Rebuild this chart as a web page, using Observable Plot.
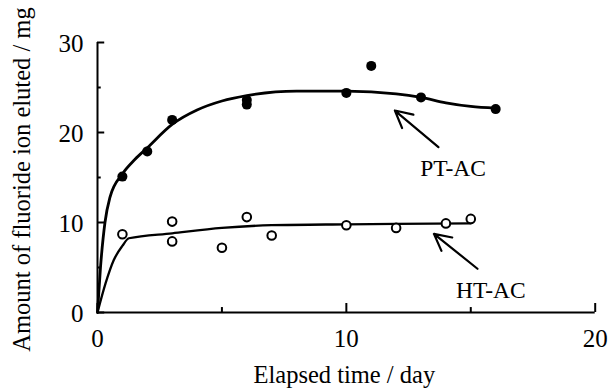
<!DOCTYPE html>
<html><head><meta charset="utf-8">
<script src="https://cdn.jsdelivr.net/npm/d3@7"></script>
<script src="https://cdn.jsdelivr.net/npm/@observablehq/plot@0.6"></script>
<style>body{margin:0;background:#fff}</style>
</head><body><div id="chart"></div>
<script>
// Observed points (elapsed day, fluoride mg)
const ptDays   = [1, 2, 3, 6, 6, 10, 11, 13, 16];
const ptValues = [15.1, 17.9, 21.4, 23.6, 23.1, 24.4, 27.4, 23.9, 22.6];
const htDays   = [1, 3, 3, 5, 6, 7, 10, 12, 14, 15];
const htValues = [8.7, 10.1, 7.9, 7.2, 10.6, 8.55, 9.7, 9.4, 9.9, 10.4];
// Fitted curves
const ptCurveDays   = [0, 0.12, 0.3, 0.5, 1, 1.5, 2, 3, 4, 5, 6, 8, 10, 12, 13, 14, 15, 16];
const ptCurveValues = [0, 5, 10, 12.8, 15.4, 17, 18.3, 20.9, 22.5, 23.5, 24.1, 24.6, 24.6, 24.3, 23.9, 23.3, 22.9, 22.7];
const htCurveDays   = [0, 0.32, 0.65, 1, 1.26, 3, 5, 7, 10, 12, 15];
const htCurveValues = [0, 3.2, 5.8, 7.4, 8.25, 8.8, 9.4, 9.7, 9.8, 9.85, 9.9];
// Axis ticks
const xMajorTicks = [0, 10, 20];
const xMinorTicks = [5, 15];
const yMajorTicks = [0, 10, 20, 30];
const yMinorTicks = [5, 15, 25];
// Annotations
const seriesNames = ["PT-AC", "HT-AC"];
const labelX = [14.29, 15.81];
const labelY = [16.0, 2.44];
const arrowTailX = [13.70, 15.27];
const arrowTailY = [18.37, 4.86];
const arrowHeadX = [11.95, 13.52];
const arrowHeadY = [22.44, 8.74];
const xTitle = "Elapsed time / day";
const yTitle = "Amount of fluoride ion eluted / mg";

const serif = "Liberation Serif";
const pts = ptDays.map((d, i) => ({x: d, y: ptValues[i]}));
const hts = htDays.map((d, i) => ({x: d, y: htValues[i]}));
const ptCurve = ptCurveDays.map((d, i) => ({x: d, y: ptCurveValues[i]}));
const htCurve = htCurveDays.map((d, i) => ({x: d, y: htCurveValues[i]}));
const ann = seriesNames.map((n, i) => ({name: n, lx: labelX[i], ly: labelY[i],
  x1: arrowTailX[i], y1: arrowTailY[i], x2: arrowHeadX[i], y2: arrowHeadY[i]}));

const chart = Plot.plot({
  width: 608, height: 390,
  marginLeft: 97, marginRight: 13.3, marginTop: 42, marginBottom: 78,
  style: {fontFamily: serif, fontSize: "24px", background: "#fff", color: "#000"},
  x: {domain: [0, 20], axis: null},
  y: {domain: [0, 30], axis: null},
  marks: [
    Plot.ruleX([0], {y1: 0, y2: 30, strokeWidth: 2}),
    Plot.ruleY([0], {x1: 0, x2: 20, strokeWidth: 2}),
    Plot.ruleX(xMajorTicks, {y1: 0, y2: 1.0, strokeWidth: 2}),
    Plot.ruleX(xMinorTicks, {y1: 0, y2: 0.55, strokeWidth: 2}),
    Plot.ruleY(yMajorTicks, {x1: 0, x2: 0.29, strokeWidth: 2}),
    Plot.ruleY(yMinorTicks, {x1: 0, x2: 0.15, strokeWidth: 2}),
    Plot.text(xMajorTicks, {x: d => d, frameAnchor: "bottom", lineAnchor: "top", textAnchor: "middle", dy: 17, text: d => String(d), fontSize: 25, fontFamily: serif}),
    Plot.text(yMajorTicks, {y: d => d, frameAnchor: "left", lineAnchor: "middle", textAnchor: "end", dx: -14, dy: 1.5, text: d => String(d), fontSize: 25, fontFamily: serif}),
    Plot.text([xTitle], {frameAnchor: "bottom", textAnchor: "middle", dx: -2, dy: 70, lineAnchor: "bottom", fontSize: 24.5, fontFamily: serif}),
    Plot.text([yTitle], {frameAnchor: "left", textAnchor: "middle", rotate: -90, dx: -68, dy: 2, lineAnchor: "bottom", fontSize: 24.5, fontFamily: serif}),
    Plot.line(ptCurve, {x: "x", y: "y", curve: "monotone-x", strokeWidth: 2.8}),
    Plot.line(htCurve, {x: "x", y: "y", curve: "monotone-x", strokeWidth: 2.3}),
    Plot.dot(pts, {x: "x", y: "y", r: 5, fill: "#000", stroke: "none"}),
    Plot.dot(hts, {x: "x", y: "y", r: 4.3, fill: "#fff", stroke: "#000", strokeWidth: 2}),
    Plot.arrow(ann, {x1: "x1", y1: "y1", x2: "x2", y2: "y2", headLength: 18, headAngle: 55, strokeWidth: 2.2}),
    Plot.text(ann, {x: "lx", y: "ly", text: "name", fontSize: 23.5, fontFamily: serif, lineAnchor: "middle"})
  ]
});
document.getElementById("chart").appendChild(chart);
</script>
</body></html>
